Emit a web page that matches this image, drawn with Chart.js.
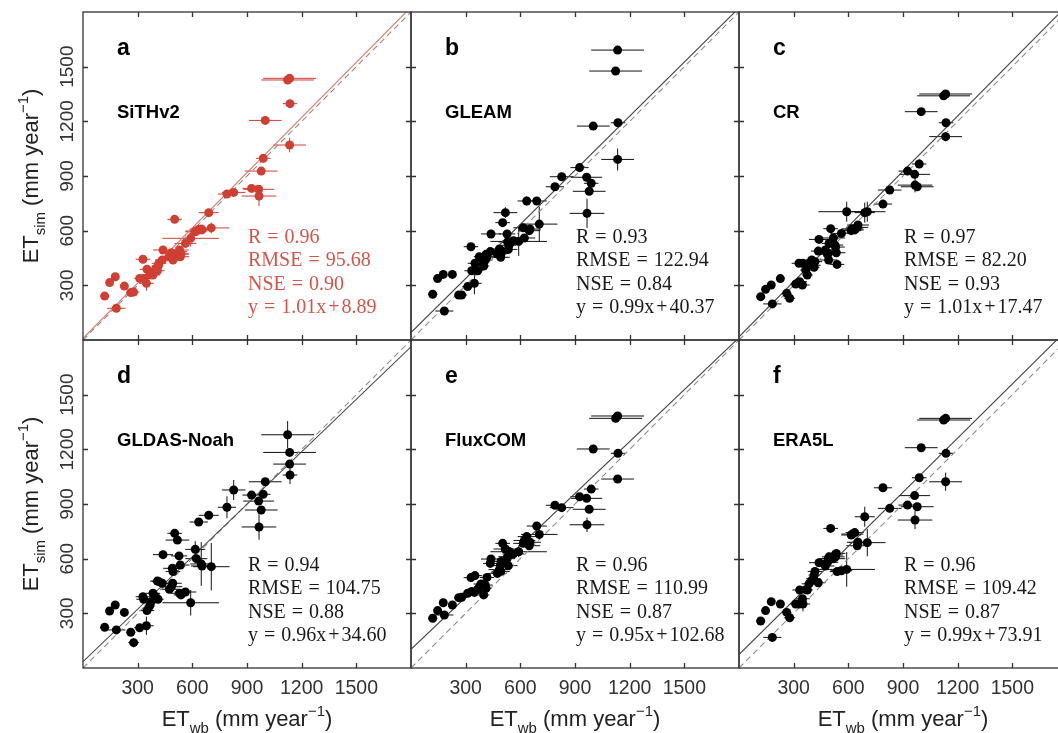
<!DOCTYPE html>
<html>
<head>
<meta charset="utf-8">
<script src="https://cdn.jsdelivr.net/npm/chart.js@4.4.1/dist/chart.umd.min.js"></script>
<style>
  html, body { margin: 0; padding: 0; background: #fff; }
  #wrap { position: relative; width: 1058px; height: 733px; overflow: hidden; background: #fff; }
  #wrap canvas { position: absolute; }
</style>
</head>
<body>
<div id="wrap"></div>
<script>
// water-balance ET per basin (x of every panel) and its spread
const etWb    = [119,146,177,183,227,262,278,311,329,333, 348,351,366,375,384,399,408,412,417,435,
                 439,474,485,490,492,494,503,518,527,530, 534,538,562,591,616,622,635,649,653,690,
                 704,790,827,925,964,966,978,989,1000,1123, 1134,1134,1136];
const etWbErr = [25,20,15,50,15,25,30,30,40,40, 40,40,30,30,40,30,40,30,40,40,
                 55,50,60,50,50,40,40,65,45,50, 50,40,60,155,55,60,50,60,60,55,
                 100,50,65,50,85,95,90,40,90,145, 145,90,40];

// simulated ET per product
const sithv2    = [241,315,347,174,296,260,263,338,443,338, 311,388,357,366,357,393,380,406,421,439,
                   494,457,479,448,457,439,662,472,485,494, 457,472,530,558,594,598,607,609,604,699,
                   615,801,810,832,827,790,927,997,1205,1427, 1436,1070,1297];
const sithv2Err = [15,15,15,15,15,15,15,15,15,15, 40,15,15,15,15,15,15,15,15,15,
                   15,15,15,15,15,15,15,15,15,15, 15,15,15,45,15,15,15,15,15,20,
                   30,15,15,15,15,55,15,15,15,15, 15,40,15];
const gleam     = [251,337,360,159,360,247,247,293,512,380, 311,421,380,457,430,406,439,470,457,485,
                   582,472,500,494,454,475,644,699,582,538, 497,520,545,541,616,560,763,600,609,763,
                   636,841,896,946,893,695,816,860,1174,1476, 1591,991,1192];
const gleamErr  = [15,15,15,15,15,15,15,15,15,15, 60,15,15,15,15,15,15,15,15,15,
                   15,15,15,15,15,15,15,30,15,15, 15,15,15,80,15,15,25,15,15,15,
                   95,15,15,15,15,80,15,15,15,15, 15,60,15];
const cr        = [238,278,302,198,337,256,229,307,421,320, 302,421,384,357,421,439,410,399,430,488,
                   552,494,470,476,439,530,611,560,521,510, 479,415,585,704,600,610,604,618,631,699,
                   704,746,823,927,909,850,841,966,1253,1340, 1350,1116,1192];
const crErr     = [15,15,15,15,15,15,15,15,15,15, 15,15,15,15,15,15,15,15,15,15,
                   15,15,15,15,15,15,15,15,15,15, 15,15,15,55,15,15,15,15,15,55,
                   55,15,15,15,15,40,15,15,15,15, 15,25,15];
const gldas     = [223,313,346,209,305,196,139,221,391,377, 232,315,340,364,410,391,477,377,474,465,
                   622,432,446,547,465,529,739,702,615,410, 565,401,417,358,651,600,801,571,560,838,
                   556,882,977,949,916,774,867,953,1022,1280, 1183,1119,1059];
const gldasErr  = [20,20,20,20,20,20,25,20,20,20, 50,20,20,20,20,20,20,20,20,20,
                   20,20,20,20,20,20,20,20,20,20, 20,20,20,70,45,20,20,120,20,20,
                   130,60,55,20,20,70,20,20,20,75, 20,20,50];
const fluxcom   = [273,315,358,291,346,386,388,410,496,420, 415,507,430,445,461,401,455,437,497,574,
                   598,519,540,562,530,585,684,653,600,611, 562,640,626,638,684,700,721,671,690,779,
                   733,893,880,940,931,786,871,982,1202,1370, 1383,1037,1178];
const fluxcomErr= [15,15,15,15,15,15,15,15,15,15, 15,15,15,15,15,15,15,15,15,15,
                   15,15,15,15,15,15,15,15,15,15, 15,15,15,30,15,15,15,15,15,15,
                   30,15,15,15,15,40,15,15,15,15, 15,20,15];
const era5l     = [258,315,364,168,351,305,276,351,351,428, 380,351,430,428,462,480,490,510,530,468,
                   578,560,580,600,590,610,766,600,620,610, 629,529,534,541,730,735,743,671,690,830,
                   688,989,876,894,946,812,885,1044,1209,1361, 1370,1022,1178];
const era5lErr  = [15,15,15,15,15,15,15,15,15,15, 15,40,15,15,15,15,15,15,15,15,
                   15,15,15,15,15,15,20,15,15,15, 15,15,15,95,15,15,15,15,15,55,
                   75,20,15,15,15,50,15,15,15,15, 15,50,15];

const products     = ['SiTHv2', 'GLEAM', 'CR', 'GLDAS-Noah', 'FluxCOM', 'ERA5L'];
const panelLetters = ['a', 'b', 'c', 'd', 'e', 'f'];
const simValues    = [sithv2, gleam, cr, gldas, fluxcom, era5l];
const simErrors    = [sithv2Err, gleamErr, crErr, gldasErr, fluxcomErr, era5lErr];

// fit statistics printed in each panel
const statR        = ['0.96', '0.93', '0.97', '0.94', '0.96', '0.96'];
const statRMSE     = ['95.68', '122.94', '82.20', '104.75', '110.99', '109.42'];
const statNSE      = ['0.90', '0.84', '0.93', '0.88', '0.87', '0.87'];
const fitSlope     = [1.01, 0.99, 1.01, 0.96, 0.95, 0.99];
const fitIntercept = [8.89, 40.37, 17.47, 34.60, 102.68, 73.91];

const tickValues = [300, 600, 900, 1200, 1500];
const axisMin = 0, axisMax = 1800;

const SANS = '"Liberation Sans", Arial, sans-serif';
const SERIF = '"Liberation Serif", "Times New Roman", serif';
const RED = '#cf3f33', RED_LINE = '#e0786c', RED_TEXT = '#d4564a';

// draws text made of normal / sub / sup pieces, centred on x
function drawRich(ctx, parts, x, y, size) {
  let total = 0;
  parts.forEach(p => {
    ctx.font = (p.s ? size * 0.68 : size) + 'px ' + SANS;
    p.w = ctx.measureText(p.t).width;
    total += p.w;
  });
  let cx = x - total / 2;
  ctx.textAlign = 'left';
  ctx.textBaseline = 'alphabetic';
  parts.forEach(p => {
    ctx.font = (p.s ? size * 0.68 : size) + 'px ' + SANS;
    const dy = p.s === 'sub' ? size * 0.32 : (p.s === 'sup' ? -size * 0.45 : 0);
    ctx.fillText(p.t, cx, y + dy);
    cx += p.w;
  });
}

// "name = value" with the wide math spacing round the equals sign
function drawStat(ctx, name, value, x, y, size) {
  const gap = size * 0.3;
  ctx.fillText(name, x, y);
  let cx = x + ctx.measureText(name).width + gap;
  ctx.fillText('=', cx, y);
  cx += ctx.measureText('=').width + gap;
  // binary operators inside the value get a little room too
  value.split(/([+\u2212])/).forEach(part => {
    if (part === '+' || part === '\u2212') {
      cx += size * 0.1;
      ctx.fillText(part, cx, y);
      cx += ctx.measureText(part).width + size * 0.1;
    } else {
      ctx.fillText(part, cx, y);
      cx += ctx.measureText(part).width;
    }
  });
}

const panelDeco = {
  id: 'panelDeco',
  beforeDatasetsDraw(chart, args, o) {
    const ctx = chart.ctx, a = chart.chartArea;
    const xs = chart.scales.x, ys = chart.scales.y;
    const vals = simValues[o.idx], errs = simErrors[o.idx];
    ctx.save();
    ctx.beginPath();
    ctx.rect(a.left, a.top, a.right - a.left, a.bottom - a.top);
    ctx.clip();
    ctx.strokeStyle = o.idx === 0 ? RED : '#111';
    ctx.lineWidth = 1;
    ctx.beginPath();
    for (let i = 0; i < etWb.length; i++) {
      const px = xs.getPixelForValue(etWb[i]), py = ys.getPixelForValue(vals[i]);
      ctx.moveTo(xs.getPixelForValue(etWb[i] - etWbErr[i]), py);
      ctx.lineTo(xs.getPixelForValue(etWb[i] + etWbErr[i]), py);
      ctx.moveTo(px, ys.getPixelForValue(vals[i] - errs[i]));
      ctx.lineTo(px, ys.getPixelForValue(vals[i] + errs[i]));
    }
    ctx.stroke();
    ctx.restore();
  },
  afterDraw(chart, args, o) {
    const ctx = chart.ctx, a = chart.chartArea;
    const xs = chart.scales.x, ys = chart.scales.y;
    const i = o.idx;
    ctx.save();
    // frame and inward ticks
    ctx.strokeStyle = '#333';
    ctx.lineWidth = 1.3;
    ctx.strokeRect(a.left, a.top, a.right - a.left, a.bottom - a.top);
    ctx.beginPath();
    tickValues.forEach(v => {
      const px = Math.round(xs.getPixelForValue(v)) + 0.5;
      const py = Math.round(ys.getPixelForValue(v)) + 0.5;
      ctx.moveTo(px, a.bottom); ctx.lineTo(px, a.bottom - 5);
      ctx.moveTo(px, a.top);    ctx.lineTo(px, a.top + 5);
      ctx.moveTo(a.left, py);   ctx.lineTo(a.left + 5, py);
      ctx.moveTo(a.right, py);  ctx.lineTo(a.right - 5, py);
    });
    ctx.stroke();

    // tick labels and axis titles on the outer panels only
    ctx.fillStyle = '#333';
    if (o.bottom) {
      ctx.font = '19.5px ' + SANS;
      ctx.textAlign = 'center';
      ctx.textBaseline = 'alphabetic';
      tickValues.forEach(v => ctx.fillText(String(v), xs.getPixelForValue(v), a.bottom + 26));
      ctx.fillStyle = '#222';
      drawRich(ctx, [{t: 'ET'}, {t: 'wb', s: 'sub'}, {t: ' (mm year'}, {t: '\u22121', s: 'sup'}, {t: ')'}],
               (a.left + a.right) / 2, a.bottom + 58, 22);
    }
    if (o.left) {
      ctx.fillStyle = '#333';
      ctx.font = '19px ' + SANS;
      ctx.textAlign = 'center';
      ctx.textBaseline = 'alphabetic';
      tickValues.forEach(v => {
        ctx.save();
        ctx.translate(a.left - 10, ys.getPixelForValue(v));
        ctx.rotate(-Math.PI / 2);
        ctx.fillText(String(v), 0, 0);
        ctx.restore();
      });
      ctx.save();
      ctx.fillStyle = '#222';
      ctx.translate(a.left - 45, (a.top + a.bottom) / 2);
      ctx.rotate(-Math.PI / 2);
      drawRich(ctx, [{t: 'ET'}, {t: 'sim', s: 'sub'}, {t: ' (mm year'}, {t: '\u22121', s: 'sup'}, {t: ')'}], 0, 0, 22);
      ctx.restore();
    }

    // panel letter and product name
    ctx.fillStyle = '#000';
    ctx.textAlign = 'left';
    ctx.textBaseline = 'alphabetic';
    ctx.font = 'bold 23px ' + SANS;
    ctx.fillText(panelLetters[i], a.left + 34, a.top + 43);
    ctx.font = 'bold 18.5px ' + SANS;
    ctx.fillText(products[i], a.left + 34, a.top + 106);

    // statistics
    ctx.fillStyle = i === 0 ? RED_TEXT : '#1a1a1a';
    ctx.font = '20px ' + SERIF;
    const sign = fitIntercept[i] >= 0 ? '+' : '\u2212';
    const rows = [['R', statR[i]], ['RMSE', statRMSE[i]], ['NSE', statNSE[i]],
                  ['y', fitSlope[i].toFixed(2) + 'x' + sign + Math.abs(fitIntercept[i]).toFixed(2)]];
    rows.forEach((r, k) => drawStat(ctx, r[0], r[1], a.left + 165, a.top + 231 + k * 23.4, 20));
    ctx.restore();
  }
};

const wrap = document.getElementById('wrap');
const CW = 421, CH = 405;

for (let i = 0; i < 6; i++) {
  const row = Math.floor(i / 3), col = i % 3;
  const cv = document.createElement('canvas');
  cv.width = CW; cv.height = CH;
  cv.style.width = CW + 'px'; cv.style.height = CH + 'px';
  cv.style.left = (col * 328) + 'px';
  cv.style.top = (row * 328) + 'px';
  wrap.appendChild(cv);

  const ptColor = i === 0 ? RED : '#000';
  const pts = etWb.map((x, k) => ({x: x, y: simValues[i][k]}));
  const fit = [axisMin, axisMax].map(x => ({x: x, y: fitSlope[i] * x + fitIntercept[i]}));
  const oneToOne = [axisMin, axisMax].map(x => ({x: x, y: x}));

  new Chart(cv.getContext('2d'), {
    type: 'scatter',
    data: {
      datasets: [
        {data: pts, pointRadius: 4.5, pointBackgroundColor: ptColor, pointBorderWidth: 0, order: 0},
        {type: 'line', data: fit, showLine: true, borderColor: i === 0 ? RED_LINE : '#444',
         borderWidth: 1.1, pointRadius: 0, order: 1},
        {type: 'line', data: oneToOne, showLine: true, borderColor: '#8c8c8c', borderDash: [6, 4],
         borderWidth: 1.1, pointRadius: 0, order: 2}
      ]
    },
    options: {
      responsive: false,
      animation: false,
      events: [],
      devicePixelRatio: 1,
      layout: {padding: {top: 12, right: 10, left: 0, bottom: 0}},
      plugins: {
        legend: {display: false},
        tooltip: {enabled: false},
        panelDeco: {idx: i, left: col === 0, bottom: row === 1}
      },
      scales: {
        x: {type: 'linear', min: axisMin, max: axisMax,
            grid: {display: false, drawTicks: false}, border: {display: false},
            ticks: {display: false, stepSize: 300},
            afterFit(s) { s.height = 65; }},
        y: {type: 'linear', min: axisMin, max: axisMax,
            grid: {display: false, drawTicks: false}, border: {display: false},
            ticks: {display: false, stepSize: 300},
            afterFit(s) { s.width = 83; }}
      }
    },
    plugins: [panelDeco]
  });
}
</script>
</body>
</html>
